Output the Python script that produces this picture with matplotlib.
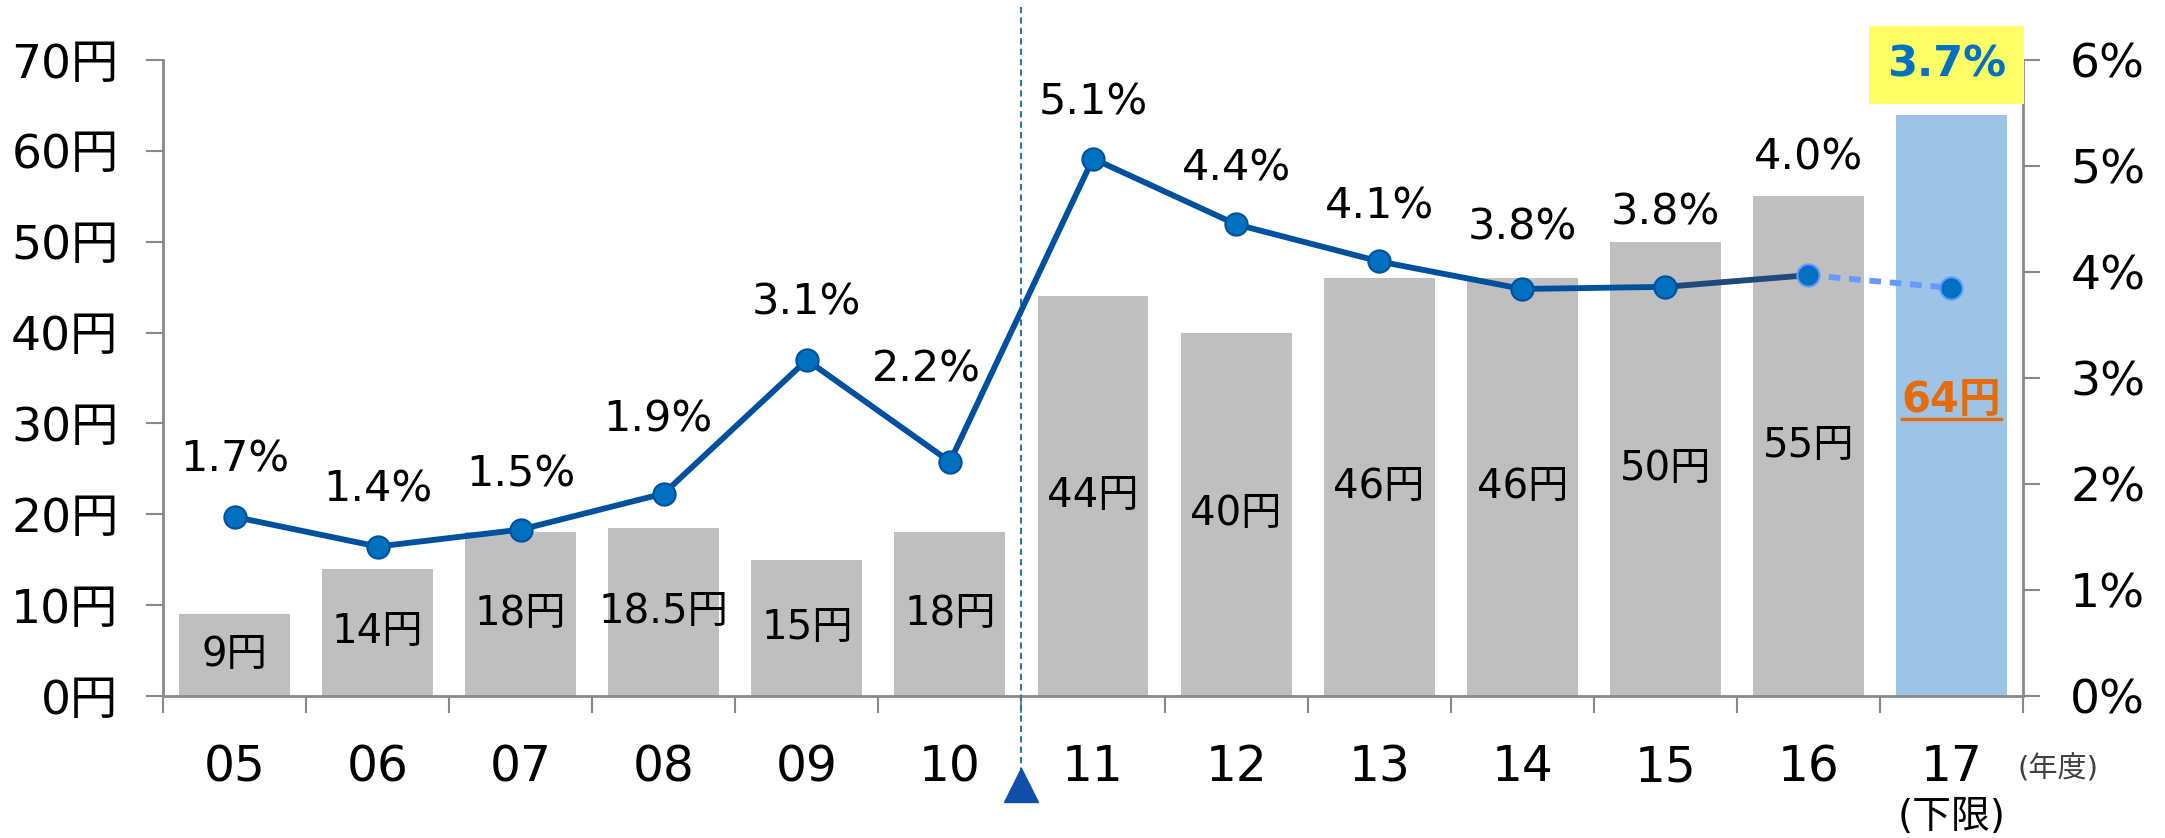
import matplotlib
matplotlib.use('Agg')
import matplotlib.pyplot as plt
import matplotlib.transforms as mtransforms
from matplotlib.lines import Line2D

plt.rcParams['font.family'] = ['DejaVu Sans', 'Noto Sans CJK JP']

years = ['05', '06', '07', '08', '09', '10', '11', '12', '13', '14', '15', '16', '17']
price_yen = [9, 14, 18, 18.5, 15, 18, 44, 40, 46, 46, 50, 55, 64]
price_labels = ['9円', '14円', '18円', '18.5円', '15円', '18円', '44円', '40円',
                '46円', '46円', '50円', '55円', '64円']
growth_rate = [1.69, 1.41, 1.57, 1.91, 3.17, 2.21, 5.07, 4.45, 4.10, 3.84, 3.86, 3.97, 3.85]
growth_labels = ['1.7%', '1.4%', '1.5%', '1.9%', '3.1%', '2.2%', '5.1%', '4.4%',
                 '4.1%', '3.8%', '3.8%', '4.0%', '3.7%']
yen_ticks = [0, 10, 20, 30, 40, 50, 60, 70]
pct_ticks = [0, 1, 2, 3, 4, 5, 6]

# label placement (pixels above / beside each point)
label_lift = [57, 57, 55, 74, 57, 92, 56, 56, 55, 61, 74, 118, 223]
label_shift = [0, 0, 0, -6, 0, -24, 0, 0, 0, 0, 0, 0, -5]

GRAY = '#898989'
BAR = '#BFBFBF'
BAR_LAST = '#9DC3E6'
LINE = '#0050A0'
LINE_DARK = '#1F497D'
LINE_LIGHT = '#6699FF'
MARK = '#0070C0'

fig = plt.figure(figsize=(21.65, 8.38), dpi=100)
ax = fig.add_axes([163 / 2165, 142 / 838, 1860 / 2165, 636 / 838])
ax2 = ax.twinx()

x = list(range(len(years)))
colors = [BAR] * (len(years) - 1) + [BAR_LAST]
ax.bar(x, price_yen, width=0.775, color=colors, zorder=2)

ax.set_xlim(-0.5, len(years) - 0.5)
ax.set_ylim(0, 70)
ax2.set_ylim(0, 6)

# axes styling
for a in (ax, ax2):
    for s in a.spines.values():
        s.set_visible(False)
ax.spines['left'].set_visible(True)
ax.spines['bottom'].set_visible(True)
ax2.spines['right'].set_visible(True)
for s in (ax.spines['left'], ax.spines['bottom'], ax2.spines['right']):
    s.set_color(GRAY)
    s.set_linewidth(2)

ax.set_yticks(yen_ticks)
ax.set_yticklabels([f'{v}円' for v in yen_ticks])
ax.tick_params(axis='y', length=12, width=1.5, color=GRAY, labelsize=34, pad=20)
ax2.set_yticks(pct_ticks)
ax2.set_yticklabels([f'{v}%' for v in pct_ticks])
ax2.tick_params(axis='y', length=12, width=1.5, color=GRAY, labelsize=34, pad=22)

ax.set_xticks(x)
ax.set_xticklabels(years)
ax.set_xticks([i - 0.5 for i in range(len(years) + 1)], minor=True)
ax.tick_params(axis='x', which='major', length=0, labelsize=35, pad=34)
ax.tick_params(axis='x', which='minor', length=12, width=1.5, color=GRAY)

# bar value labels
for i, (v, lab) in enumerate(zip(price_yen, price_labels)):
    if i == len(years) - 1:
        continue
    ax.text(i, v / 2, lab, ha='center', va='center', fontsize=29, zorder=3)

t64 = ax.text(x[-1], price_yen[-1] / 2 + 0.6, price_labels[-1], ha='center', va='center',
              fontsize=30, fontweight='bold', color='#E46C0A', zorder=3)

# growth line
ax2.plot(x[:11], growth_rate[:11], color=LINE, lw=4.2, zorder=4)
ax2.plot(x[10:12], growth_rate[10:12], color=LINE_DARK, lw=4.2, zorder=4)
ax2.plot(x[11:], growth_rate[11:], color=LINE_LIGHT, lw=4.2, ls=(0, (2, 1.5)), zorder=4)
ax2.plot(x[:11], growth_rate[:11], ls='none', marker='o', ms=16, mfc=MARK, mec=LINE,
         mew=1.5, zorder=5)
ax2.plot(x[11:], growth_rate[11:], ls='none', marker='o', ms=16, mfc=MARK, mec=LINE_LIGHT,
         mew=1.5, zorder=5)

for i, lab in enumerate(growth_labels):
    dx = label_shift[i] * 0.72
    dy = label_lift[i] * 0.72
    if i == len(years) - 1:
        ax2.annotate(lab, (x[i], growth_rate[i]), xytext=(dx, dy), textcoords='offset points',
                     ha='center', va='center', fontsize=31, fontweight='bold', color=MARK,
                     bbox=dict(boxstyle='square,pad=0.42', fc='#FFFF66', ec='none'), zorder=6)
    else:
        ax2.annotate(lab, (x[i], growth_rate[i]), xytext=(dx, dy), textcoords='offset points',
                     ha='center', va='center', fontsize=31, zorder=6)

# forecast divider between 10 and 11
trans = mtransforms.blended_transform_factory(ax2.transData, ax2.transAxes)
ax2.plot([5.5, 5.5], [1.083, -0.12], transform=trans, color='#2E75B6', lw=1.5,
         ls=(0, (3, 2)), clip_on=False, zorder=1)
ax2.plot([5.5], [-0.14], transform=trans, marker='^', ms=25, color='#0F4FA8',
         clip_on=False, zorder=6)

# extra axis annotations
btrans = mtransforms.blended_transform_factory(ax.transData, ax.transAxes)
ax.text(len(years) - 0.5 - 0.04, -0.115, '(年度)', transform=btrans,
        ha='left', va='center', fontsize=21, color='#404040')
ax.text(x[-1], -0.19, '(下限)', transform=btrans, ha='center', va='center', fontsize=28)

# underline for the last bar label
fig.canvas.draw()
bb = t64.get_window_extent()
fig.add_artist(Line2D([bb.x0, bb.x1], [bb.y0 + 2, bb.y0 + 2], transform=None,
                      color='#E46C0A', lw=2.5))

fig.savefig('out.png', dpi=100)
